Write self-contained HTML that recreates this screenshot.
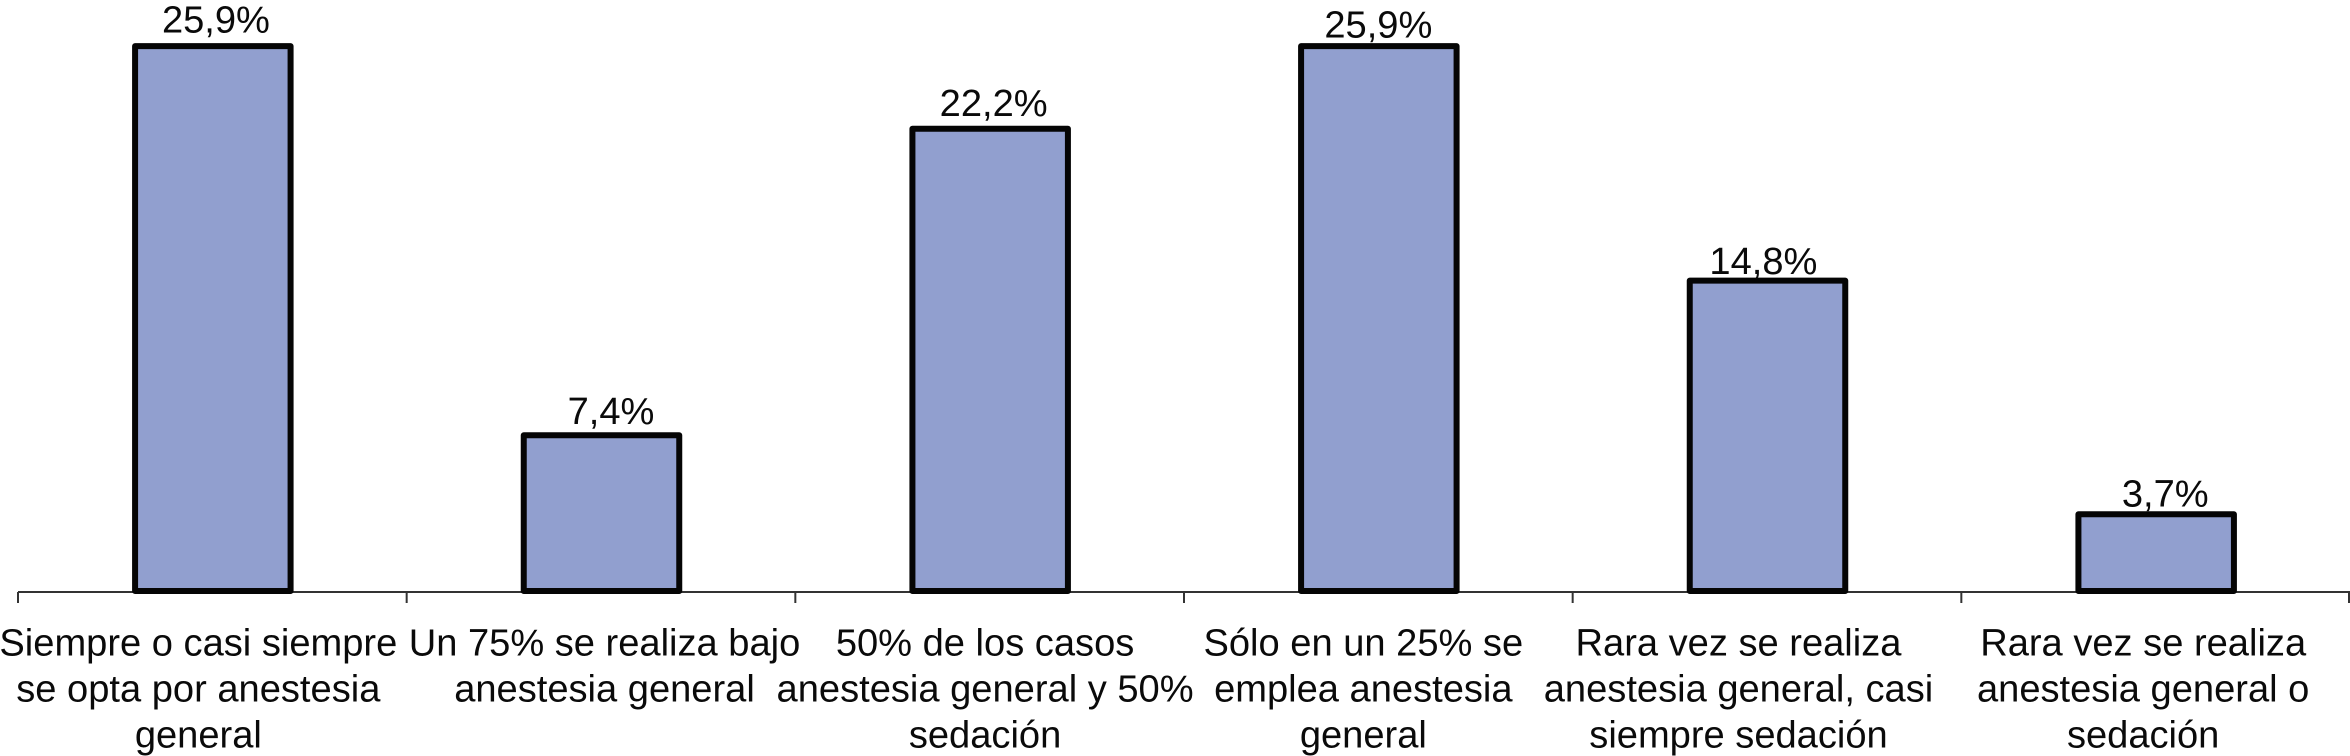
<!DOCTYPE html>
<html lang="es">
<head>
<meta charset="utf-8">
<title>Anestesia general y sedación</title>
<style>
  html, body { margin: 0; padding: 0; background: #fff; }
  body { width: 2350px; height: 756px; overflow: hidden; }
  svg { display: block; }
  text { font-family: "Liberation Sans", Arial, sans-serif; font-size: 38.1px; fill: #0a0a0a; }
</style>
</head>
<body>
<svg id="chart" xmlns="http://www.w3.org/2000/svg" width="2350" height="756" viewBox="0 0 2350 756"></svg>
<script>
// Chart data
const categories = [
  ["Siempre o casi siempre", "se opta por anestesia", "general"],
  ["Un 75% se realiza bajo", "anestesia general"],
  ["50% de los casos", "anestesia general y 50%", "sedación"],
  ["Sólo en un 25% se", "emplea anestesia", "general"],
  ["Rara vez se realiza", "anestesia general, casi", "siempre sedación"],
  ["Rara vez se realiza", "anestesia general o", "sedación"]
];
// Bar lengths
const values = [25.9, 7.4, 21.97, 25.9, 14.75, 3.65];
// Values as printed above each bar
const printedValues = ["25,9%", "7,4%", "22,2%", "25,9%", "14,8%", "3,7%"];

// Layout
const plotLeft = 18, plotRight = 2350, axisY = 592, barBase = 591;
const pxPerUnit = 21.04, barWidth = 155.5, barStroke = 6, tickLen = 11;
const labelLineHeight = 45.8, labelFirstBaseline = 655.7;
// The source places its text by hand, so labels carry small per-item nudges
const valueNudgeX = [3.1, 9.5, 3.5, -0.5, -4.1, 9.1];
const valueGap = [10.4, 8.1, 9.8, 5.5, 3.8, 4.8];
const categoryNudgeX = [-14, 3.5, -4.6, -15, -28.5, -12.5];

const svg = document.getElementById('chart');
const NS = 'http://www.w3.org/2000/svg';
const band = (plotRight - plotLeft) / categories.length;
const xEdge = i => plotLeft + i * band;
const xCenter = i => plotLeft + (i + 0.5) * band + 0.5;
const yValue = v => barBase - v * pxPerUnit;

function make(tag, attrs, parent) {
  const el = document.createElementNS(NS, tag);
  for (const k in attrs) el.setAttribute(k, attrs[k]);
  parent.appendChild(el);
  return el;
}

// Baseline axis and ticks
const axis = make('g', { stroke: '#333333', 'stroke-width': 2, fill: 'none' }, svg);


const axisLine = make('line', { x1: plotLeft, x2: plotRight, y1: axisY, y2: axisY }, axis);


for (let i = 0; i <= categories.length; i++) {
  const tickX = Math.min(xEdge(i), plotRight - 1);
  const tick = make('line', { x1: tickX, x2: tickX, y1: axisY, y2: axisY + tickLen }, axis);
  
  
}

// Bars and value labels
values.forEach((v, i) => {
  const top = yValue(v);
  const bar = make('rect', {
    x: xCenter(i) - barWidth / 2, y: top,
    width: barWidth, height: barBase - top,
    fill: '#919fcf', stroke: '#050505',
    'stroke-width': barStroke, 'stroke-linejoin': 'round'
  }, svg);
  
  

  const label = make('text', {
    x: xCenter(i) + valueNudgeX[i],
    y: top - barStroke / 2 - valueGap[i],
    'text-anchor': 'middle'
  }, svg);
  label.textContent = printedValues[i];
  
  
});

// Category labels
categories.forEach((lines, i) => {
  const group = make('text', { 'text-anchor': 'middle' }, svg);
  
  
  lines.forEach((line, j) => {
    const span = make('tspan', {
      x: xCenter(i) + categoryNudgeX[i] - 0.5,
      y: labelFirstBaseline + j * labelLineHeight
    }, group);
    span.textContent = line;
  });
});
</script>
</body>
</html>
